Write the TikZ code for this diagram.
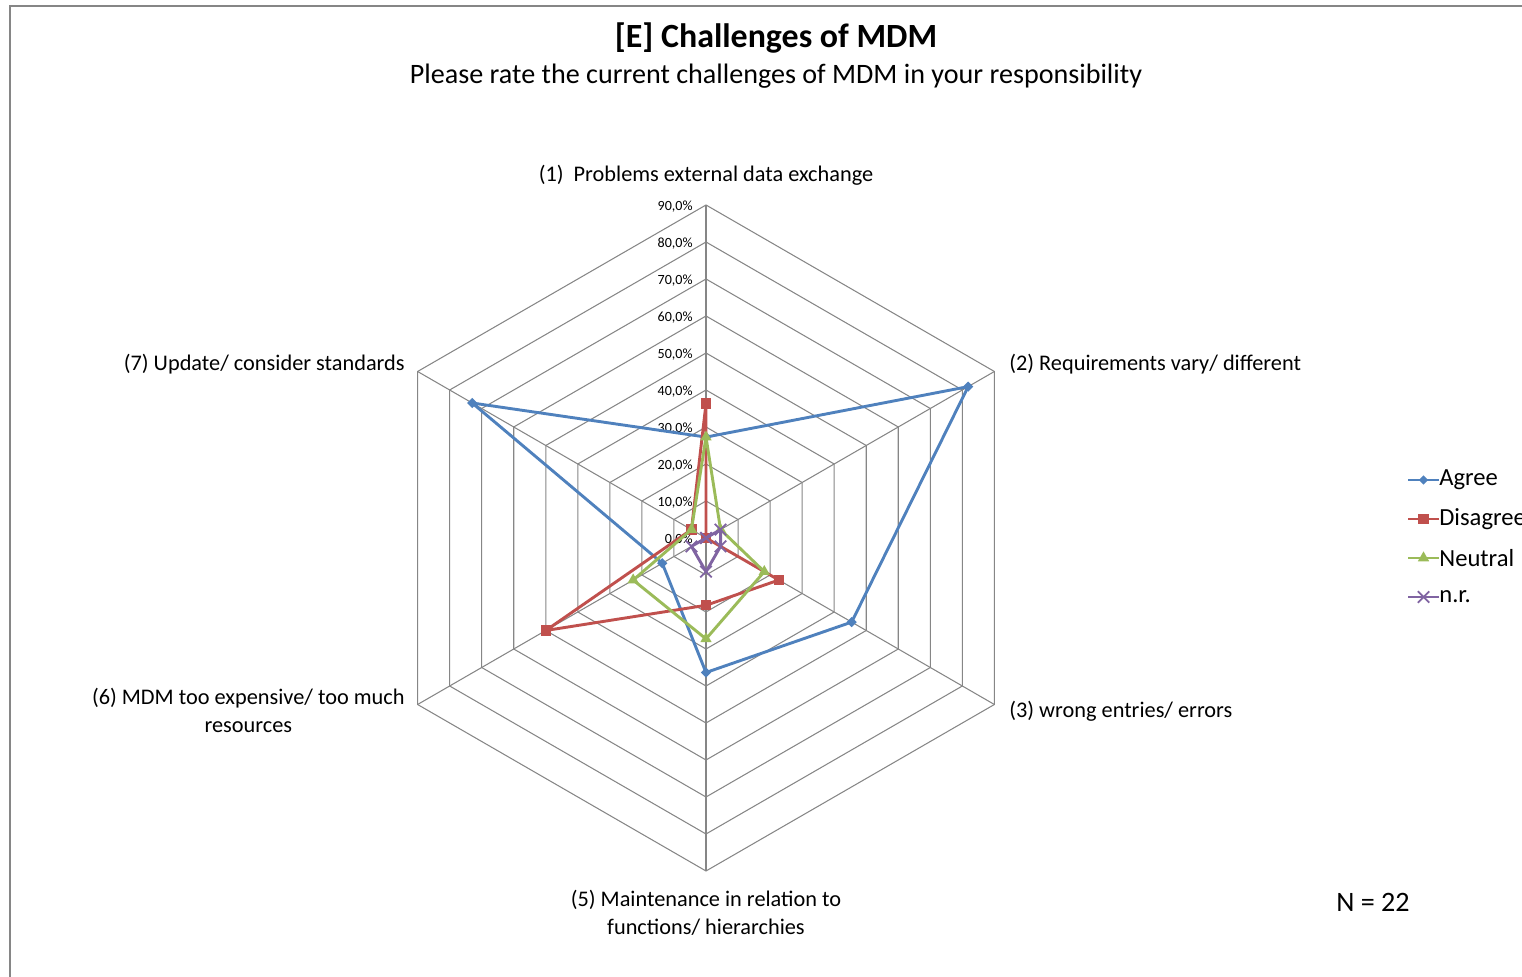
\documentclass[tikz,border=0pt]{standalone}
\usepackage{fontspec}
\setmainfont{Carlito}
\usetikzlibrary{shapes.geometric,shapes.misc}
\definecolor{agreec}{HTML}{4F81BD}
\definecolor{disagreec}{HTML}{C0504D}
\definecolor{neutralc}{HTML}{9BBB59}
\definecolor{nrc}{HTML}{8064A2}
\definecolor{gridc}{HTML}{868686}
\tikzstyle{gridline}=[draw=gridc, line width=0.6pt]
\tikzstyle{serie}=[line width=1.65pt, line join=round]
\tikzstyle{agree mark}=[diamond, fill=agreec, inner sep=0pt, minimum size=6pt]
\tikzstyle{disagree mark}=[rectangle, fill=disagreec, inner sep=0pt, minimum size=5.8pt]
\tikzstyle{neutral mark}=[regular polygon, regular polygon sides=3, fill=neutralc, inner sep=0pt, minimum size=7.5pt]
\tikzstyle{nr mark}=[cross out, draw=nrc, line width=1pt, inner sep=0pt, minimum size=5.5pt]
\tikzstyle{axis label}=[font=\fontsize{12.7}{15.9}\selectfont, inner sep=0pt]
\tikzstyle{legend text}=[font=\fontsize{14}{16}\selectfont, anchor=west, inner sep=0pt]

\begin{document}
\begin{tikzpicture}[x=0.02cm,y=0.02cm]
\useasboundingbox (0,0) rectangle (1522,977);
\draw[gridc, line width=0.8pt] (1522,971) -- (10,971) -- (10,0);

% title
\node[font=\fontsize{19.3}{22}\selectfont\bfseries] (title) at (776,939) {[E] Challenges of MDM};
\node[font=\fontsize{16}{18}\selectfont] (subtitle) at (776,901) {Please rate the current challenges of MDM in your responsibility};

\begin{scope}[shift={(706,439)}]
\coordinate (C) at (0,0);
% web
\foreach \r in {1,...,9}
  \draw[gridline] (90:37*\r) -- (30:37*\r) -- (-30:37*\r) -- (-90:37*\r) -- (210:37*\r) -- (150:37*\r) -- cycle;
\foreach \ang [count=\i] in {90,30,-30,-90,210,150}
  \coordinate (ax\i) at (\ang:333);
\foreach \i in {1,...,6}
  \draw[gridline] (C) -- (ax\i);
\foreach \i in {0,...,9}{
  \pgfmathtruncatemacro\pc{10*\i}
  \node[anchor=east, font=\fontsize{8}{9}\selectfont, inner sep=0pt] (tick\i) at (-13,37*\i-1.5) {\pc,0\%};
}

% Agree
\coordinate (a1) at (90:100.9);
\coordinate (a2) at (30:302.7);
\coordinate (a3) at (-30:168.2);
\coordinate (a4) at (-90:134.5);
\coordinate (a5) at (210:50.5);
\coordinate (a6) at (150:270);
\draw[serie, agreec] (a1) -- (a2) -- (a3) -- (a4) -- (a5) -- (a6) -- cycle;
\foreach \i in {1,...,6} \node[agree mark] (am\i) at (a\i) {};

% Disagree
\coordinate (d1) at (90:134.5);
\coordinate (d2) at (30:0);
\coordinate (d3) at (-30:84.1);
\coordinate (d4) at (-90:67.3);
\coordinate (d5) at (210:185);
\coordinate (d6) at (150:16.8);
\draw[serie, disagreec] (d1) -- (d2) -- (d3) -- (d4) -- (d5) -- (d6) -- cycle;
\foreach \i in {1,...,6} \node[disagree mark] (dm\i) at (d\i) {};

% Neutral
\coordinate (n1) at (90:100.9);
\coordinate (n2) at (30:16.8);
\coordinate (n3) at (-30:67.3);
\coordinate (n4) at (-90:100.9);
\coordinate (n5) at (210:84.1);
\coordinate (n6) at (150:16.8);
\draw[serie, neutralc] (n1) -- (n2) -- (n3) -- (n4) -- (n5) -- (n6) -- cycle;
\foreach \i in {1,...,6} \node[neutral mark] (nm\i) at (n\i) {};

% n.r.
\coordinate (r1) at (90:0);
\coordinate (r2) at (30:16.8);
\coordinate (r3) at (-30:16.8);
\coordinate (r4) at (-90:33.6);
\coordinate (r5) at (210:16.8);
\coordinate (r6) at (150:0);
\draw[serie, nrc] (r1) -- (r2) -- (r3) -- (r4) -- (r5) -- (r6) -- cycle;
\foreach \i in {1,...,6} \node[nr mark] (rm\i) at (r\i) {};
\end{scope}

% axis labels
\node[axis label] (lab1) at (706,802) {(1)~~Problems external data exchange};
\node[axis label, anchor=west] (lab2) at (1009,613) {(2) Requirements vary/ different};
\node[axis label, anchor=west] (lab3) at (1009,266) {(3) wrong entries/ errors};
\node[axis label, align=center] (lab5) at (706,64) {(5) Maintenance in relation to\\ functions/ hierarchies};
\node[axis label, align=center, anchor=north east] (lab6) at (405,289) {(6) MDM too expensive/ too much\\ resources};
\node[axis label, anchor=east] (lab7) at (405,613) {(7) Update/ consider standards};

% legend
\node[legend text] (lagree) at (1439,497) {Agree};
\node[legend text] (ldisagree) at (1439,458) {Disagree};
\node[legend text] (lneutral) at (1439,419) {Neutral};
\node[legend text] (lnr) at (1439,380) {n.r.};
\draw[serie, agreec] (lagree.west) -- ++(-31,0) node[pos=0.5, agree mark] (lam) {};
\draw[serie, disagreec] (ldisagree.west) -- ++(-31,0) node[pos=0.5, disagree mark] (ldm) {};
\draw[serie, neutralc] (lneutral.west) -- ++(-31,0) node[pos=0.5, neutral mark] (lnm) {};
\draw[serie, nrc] (lnr.west) -- ++(-31,0) node[pos=0.5, nr mark] (lrm) {};

\node[font=\fontsize{16}{18}\selectfont] (count) at (1373,75) {N = 22};
\end{tikzpicture}
\end{document}
